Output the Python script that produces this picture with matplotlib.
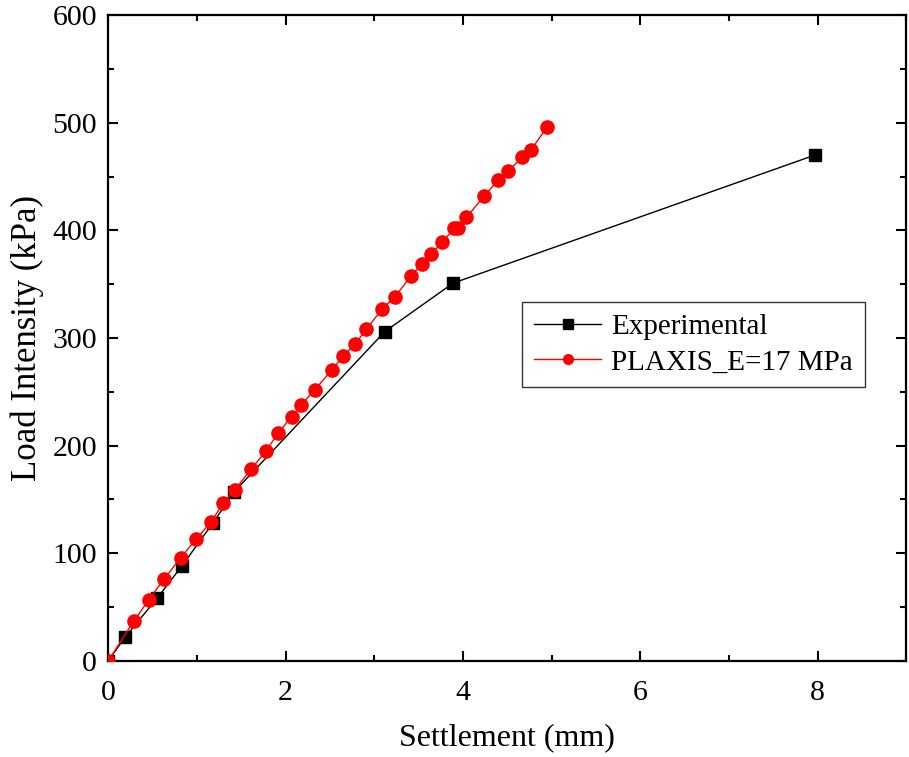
import matplotlib.pyplot as plt
from matplotlib.ticker import MultipleLocator

plt.rcParams['font.family'] = ['Liberation Serif', 'DejaVu Serif']

# measured load-settlement curve
exp_settlement = [0, 0.19, 0.55, 0.83, 1.18, 1.42, 3.12, 3.89, 7.97]
exp_load = [0, 22, 58, 88, 128, 157, 306, 351, 470]

# PLAXIS prediction, E = 17 MPa
fem_settlement = [0, 0.29, 0.46, 0.63, 0.82, 0.99, 1.16, 1.30, 1.43, 1.61,
                  1.78, 1.92, 2.07, 2.18, 2.33, 2.52, 2.65, 2.78, 2.91, 3.09,
                  3.23, 3.42, 3.54, 3.64, 3.77, 3.90, 3.95, 4.04, 4.24, 4.40,
                  4.51, 4.67, 4.77, 4.95]
fem_load = [0, 37, 57, 76, 96, 113, 129, 147, 159, 178,
            195, 212, 227, 238, 252, 270, 283, 294, 308, 327,
            338, 358, 369, 378, 389, 402, 402, 412, 432, 447,
            455, 468, 475, 496]


def draw_curves() -> None:
    fig = plt.figure(figsize=(9.09, 7.57), dpi=100)
    ax = fig.add_axes([0.119, 0.127, 0.878, 0.853])

    ax.plot(exp_settlement, exp_load, color='black', linewidth=1.0,
            marker='s', markersize=8, markerfacecolor='black',
            markeredgecolor='black', label='Experimental', zorder=2)
    ax.plot(fem_settlement, fem_load, color='red', linewidth=1.0,
            marker='o', markersize=9.5, markerfacecolor='red',
            markeredgecolor='red', label='PLAXIS_E=17 MPa', zorder=3)

    ax.set_xlim(0, 9)
    ax.set_ylim(0, 600)
    ax.xaxis.set_major_locator(MultipleLocator(2))
    ax.xaxis.set_minor_locator(MultipleLocator(1))
    ax.yaxis.set_major_locator(MultipleLocator(100))
    ax.yaxis.set_minor_locator(MultipleLocator(50))
    ax.tick_params(which='both', direction='in', width=1.5, labelsize=21.5,
                   top=True, right=True)
    ax.tick_params(which='major', length=7)
    ax.tick_params(which='minor', length=4)
    ax.tick_params(axis='x', which='major', pad=14)
    ax.tick_params(axis='y', which='major', pad=8)
    for spine in ax.spines.values():
        spine.set_linewidth(1.6)

    ax.set_xlabel('Settlement (mm)', fontsize=23, labelpad=12)
    ax.set_ylabel('Load Intensity (kPa)', fontsize=25, labelpad=6)

    leg = ax.legend(loc='upper left', bbox_to_anchor=(0.519, 0.556),
                    fontsize=21, frameon=True, fancybox=False,
                    edgecolor='black', numpoints=1, handlelength=2.3,
                    borderpad=0.4, labelspacing=0.32, handletextpad=0.35,
                    borderaxespad=0)
    leg.get_frame().set_linewidth(1.0)
    for handle in leg.legend_handles:
        handle.set_markersize(7)

    fig.savefig('out.png', dpi=100)


if __name__ == "__main__":
    draw_curves()
